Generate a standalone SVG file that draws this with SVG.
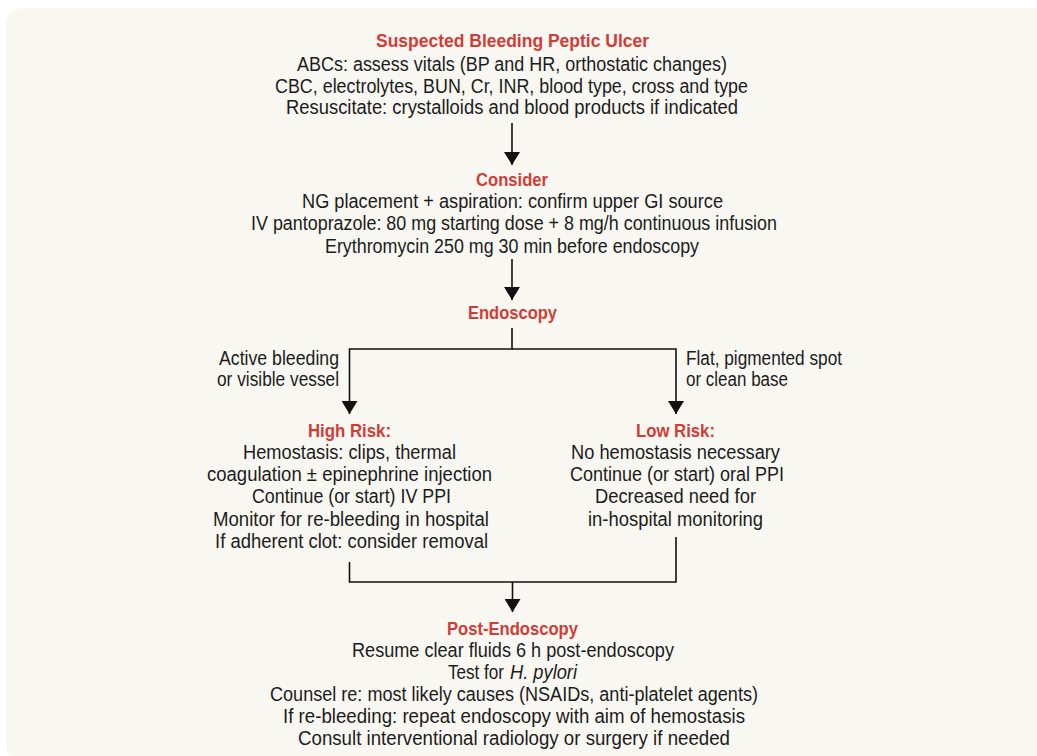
<svg xmlns="http://www.w3.org/2000/svg" width="1037" height="756" viewBox="0 0 1037 756">
<style>
.b{font-family:"Liberation Sans",Arial,sans-serif;font-size:20px;fill:#1c1c1c;text-anchor:middle}
.h{font-family:"Liberation Sans",Arial,sans-serif;font-size:18.5px;font-weight:bold;fill:#d13d36;text-anchor:middle}
.l{font-family:"Liberation Sans",Arial,sans-serif;font-size:20px;fill:#1c1c1c}
.c{fill:none;stroke:#111;stroke-width:1.6}
</style>
<defs>
<marker id="ah" markerUnits="userSpaceOnUse" markerWidth="14" markerHeight="16" refX="13" refY="8" orient="auto" viewBox="0 0 14 16">
<path d="M0,0 L13,8 L0,16 z" fill="#111"/>
</marker>
</defs>
<path d="M26,8 H1037 V756 H16 Q6,756 6,746 V28 Q6,8 26,8 Z" fill="#f8f7f1"/>

<g id="connectors">
<line class="c" x1="512" y1="123" x2="512" y2="165" marker-end="url(#ah)"/>
<line class="c" x1="512" y1="259" x2="512" y2="300" marker-end="url(#ah)"/>
<path class="c" d="M512,328 V349 H349.5 V414" marker-end="url(#ah)"/>
<path class="c" d="M512,349 H676 V414" marker-end="url(#ah)"/>
<path class="c" d="M349.5,562 V582 H676 V537"/>
<line class="c" x1="512.5" y1="582" x2="512.5" y2="612" marker-end="url(#ah)"/>
<text class="l" x="339" y="365" text-anchor="end" textLength="120" lengthAdjust="spacingAndGlyphs">Active bleeding</text>
<text class="l" x="339" y="386" text-anchor="end" textLength="122" lengthAdjust="spacingAndGlyphs">or visible vessel</text>
<text class="l" x="686" y="365" textLength="156" lengthAdjust="spacingAndGlyphs">Flat, pigmented spot</text>
<text class="l" x="686" y="386" textLength="102" lengthAdjust="spacingAndGlyphs">or clean base</text>
</g>

<g id="n1">
<text class="h" x="512.5" y="47" textLength="273" lengthAdjust="spacingAndGlyphs">Suspected Bleeding Peptic Ulcer</text>
<text class="b" x="512" y="71" textLength="430" lengthAdjust="spacingAndGlyphs">ABCs: assess vitals (BP and HR, orthostatic changes)</text>
<text class="b" x="511.5" y="93" textLength="473" lengthAdjust="spacingAndGlyphs">CBC, electrolytes, BUN, Cr, INR, blood type, cross and type</text>
<text class="b" x="512" y="114" textLength="452" lengthAdjust="spacingAndGlyphs">Resuscitate: crystalloids and blood products if indicated</text>
</g>

<g id="n2">
<text class="h" x="512" y="186" textLength="72" lengthAdjust="spacingAndGlyphs">Consider</text>
<text class="b" x="512.5" y="208" textLength="421" lengthAdjust="spacingAndGlyphs">NG placement + aspiration: confirm upper GI source</text>
<text class="b" x="514" y="230" textLength="526" lengthAdjust="spacingAndGlyphs">IV pantoprazole: 80 mg starting dose + 8 mg/h continuous infusion</text>
<text class="b" x="512" y="253" textLength="374" lengthAdjust="spacingAndGlyphs">Erythromycin 250 mg 30 min before endoscopy</text>
</g>

<g id="n3">
<text class="h" x="512.5" y="319" textLength="89" lengthAdjust="spacingAndGlyphs">Endoscopy</text>
</g>

<g id="n4">
<text class="h" x="349.5" y="437" textLength="83" lengthAdjust="spacingAndGlyphs">High Risk:</text>
<text class="b" x="349.5" y="459" textLength="213" lengthAdjust="spacingAndGlyphs">Hemostasis: clips, thermal</text>
<text class="b" x="349.5" y="481" textLength="285" lengthAdjust="spacingAndGlyphs">coagulation ± epinephrine injection</text>
<text class="b" x="351.5" y="503" textLength="199" lengthAdjust="spacingAndGlyphs">Continue (or start) IV PPI</text>
<text class="b" x="351" y="526" textLength="276" lengthAdjust="spacingAndGlyphs">Monitor for re-bleeding in hospital</text>
<text class="b" x="351.5" y="548" textLength="273" lengthAdjust="spacingAndGlyphs">If adherent clot: consider removal</text>
</g>

<g id="n5">
<text class="h" x="675.5" y="437" textLength="79" lengthAdjust="spacingAndGlyphs">Low Risk:</text>
<text class="b" x="675.5" y="459" textLength="209" lengthAdjust="spacingAndGlyphs">No hemostasis necessary</text>
<text class="b" x="677" y="481" textLength="214" lengthAdjust="spacingAndGlyphs">Continue (or start) oral PPI</text>
<text class="b" x="675.5" y="503" textLength="161" lengthAdjust="spacingAndGlyphs">Decreased need for</text>
<text class="b" x="675.5" y="526" textLength="175" lengthAdjust="spacingAndGlyphs">in-hospital monitoring</text>
</g>

<g id="n6">
<text class="h" x="512.5" y="635" textLength="131" lengthAdjust="spacingAndGlyphs">Post-Endoscopy</text>
<text class="b" x="513" y="657" textLength="322" lengthAdjust="spacingAndGlyphs">Resume clear fluids 6 h post-endoscopy</text>
<text class="l" x="448" y="679" textLength="56" lengthAdjust="spacingAndGlyphs">Test for</text>
<text class="l" x="510" y="679" font-style="italic" textLength="67" lengthAdjust="spacingAndGlyphs">H. pylori</text>
<text class="b" x="514" y="701" textLength="488" lengthAdjust="spacingAndGlyphs">Counsel re: most likely causes (NSAIDs, anti-platelet agents)</text>
<text class="b" x="514" y="723" textLength="462" lengthAdjust="spacingAndGlyphs">If re-bleeding: repeat endoscopy with aim of hemostasis</text>
<text class="b" x="514" y="745" textLength="432" lengthAdjust="spacingAndGlyphs">Consult interventional radiology or surgery if needed</text>
</g>
</svg>
